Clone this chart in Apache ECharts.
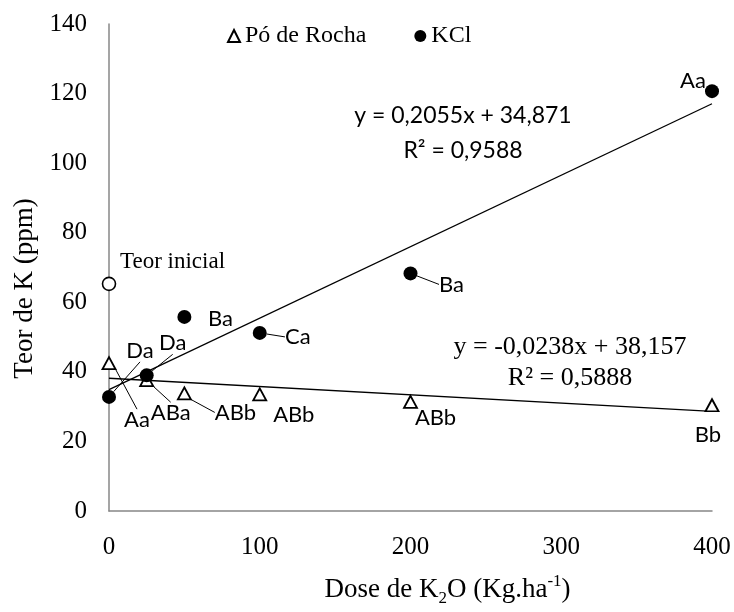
<!DOCTYPE html>
<html>
<head>
<meta charset="utf-8">
<script src="https://cdn.jsdelivr.net/npm/echarts@6/dist/echarts.min.js"></script>
<style>html,body{margin:0;padding:0;background:#fff;}#c{width:734px;height:612px;}</style>
</head>
<body>
<div id="c"></div>
<script>
// ---- data ----
const doses = [0, 25, 50, 100, 200, 400];
const poRocha = [42.5, 37.6, 33.8, 33.5, 31.4, 30.4];
const kcl = [32.8, 39.0, 55.8, 51.2, 68.3, 120.7];
const poLetters = ['Aa', 'ABa', 'ABb', 'ABb', 'ABb', 'Bb'];
const kclLetters = ['Da', 'Da', 'Ba', 'Ca', 'Ba', 'Aa'];
const teorInicial = [0, 65.3];
const kclFit = { slope: 0.2055, intercept: 34.871, r2: '0,9588', eq: 'y = 0,2055x + 34,871' };
const poFit = { slope: -0.0238, intercept: 38.157, r2: '0,5888', eq: 'y = -0,0238x + 38,157' };
const fitRange = [0, 400];

// ---- label layout (pixel offsets of letter labels from their points) ----
const poOffsets = [[28, 57], [24, 33], [51, 19], [34, 20], [25, 16], [-4, 30]];
const kclOffsets = [[31, -46], [26, -32], [36, 2], [38, 4], [41, 11], [-19, -10]];
const poLeader = [true, true, true, false, false, false];
const kclLeader = [true, true, false, true, true, false];

const serif = 'Liberation Serif';
const sans = 'Lato';

function fitLine(f) { return fitRange.map(x => [x, f.intercept + f.slope * x]); }

function scatterData(ys, letters, leaders) {
  return doses.map((d, i) => ({
    value: [d, ys[i]],
    label: { formatter: letters[i] },
    labelLine: { show: leaders[i], lineStyle: { color: '#000', width: 1 } }
  }));
}

const labelBase = {
  show: true, position: 'inside', fontFamily: sans, fontSize: 22, color: '#000'
};

const chart = echarts.init(document.getElementById('c'));
chart.setOption({
  animation: false,
  backgroundColor: '#fff',
  grid: { left: 109, right: 22, top: 24, bottom: 96 },
  legend: {
    data: [{ name: 'Pó de Rocha', icon: 'triangle' }, { name: 'KCl', icon: 'circle' }],
    left: 222, top: 19, itemWidth: 12, itemHeight: 12, itemGap: 48,
    textStyle: { fontFamily: serif, fontSize: 24, color: '#000' }
  },
  xAxis: {
    type: 'value', min: 0, max: 400, interval: 100,
    axisLine: { lineStyle: { color: '#878787', width: 1.5 } },
    axisTick: { show: false }, splitLine: { show: false },
    axisLabel: { fontFamily: serif, fontSize: 25, color: '#000', margin: 24 },
    name: '{n|Dose de K}{sub|2}{n|O (Kg.ha}{sup|-1}{n|)}',
    nameLocation: 'middle', nameGap: 62,
    nameTextStyle: {
      padding: [0, 0, 0, 74],
      rich: {
        n: { fontFamily: serif, fontSize: 27, color: '#000', lineHeight: 34, verticalAlign: 'middle' },
        sub: { fontFamily: serif, fontSize: 17, color: '#000', lineHeight: 14, verticalAlign: 'bottom' },
        sup: { fontFamily: serif, fontSize: 17, color: '#000', lineHeight: 20, verticalAlign: 'top' }
      }
    }
  },
  yAxis: {
    type: 'value', min: 0, max: 140, interval: 20,
    axisLine: { show: true, lineStyle: { color: '#878787', width: 1.5 } },
    axisTick: { show: false }, splitLine: { show: false },
    axisLabel: { fontFamily: serif, fontSize: 25, color: '#000', margin: 22 },
    name: 'Teor de K (ppm)', nameLocation: 'middle', nameGap: 68,
    nameTextStyle: { fontFamily: serif, fontSize: 27, color: '#000', padding: [0, 42, 0, 0] }
  },
  series: [
    {
      type: 'line', data: fitLine(kclFit), symbol: 'none', silent: true,
      lineStyle: { color: '#000', width: 1.3 }, z: 1
    },
    {
      type: 'line', data: fitLine(poFit), symbol: 'none', silent: true,
      lineStyle: { color: '#000', width: 1.3 }, z: 1
    },
    {
      name: 'Pó de Rocha', type: 'scatter', symbol: 'triangle', symbolSize: [13, 12],
      itemStyle: { color: '#fff', borderColor: '#000', borderWidth: 1.8, opacity: 1 },
      data: scatterData(poRocha, poLetters, poLeader),
      label: labelBase,
      labelLayout: p => ({ dx: poOffsets[p.dataIndex][0], dy: poOffsets[p.dataIndex][1] }),
      z: 3
    },
    {
      name: 'KCl', type: 'scatter', symbol: 'circle', symbolSize: 14,
      itemStyle: { color: '#000', opacity: 1 },
      data: scatterData(kcl, kclLetters, kclLeader),
      label: labelBase,
      labelLayout: p => ({ dx: kclOffsets[p.dataIndex][0], dy: kclOffsets[p.dataIndex][1] }),
      z: 3
    },
    {
      name: 'Teor inicial', type: 'scatter', symbol: 'circle', symbolSize: 13,
      itemStyle: { color: '#fff', borderColor: '#000', borderWidth: 1.6, opacity: 1 },
      data: [teorInicial],
      label: {
        show: true, position: 'inside', align: 'left', offset: [11, -22],
        formatter: 'Teor inicial', fontFamily: serif, fontSize: 23, color: '#000'
      },
      z: 3
    }
  ],
  graphic: [
    { type: 'text', x: 463, y: 116, style: { text: kclFit.eq, fontFamily: sans, fontSize: 23, fill: '#000', textAlign: 'center', textVerticalAlign: 'middle' } },
    { type: 'text', x: 463, y: 151, style: { text: 'R² = ' + kclFit.r2, fontFamily: sans, fontSize: 23, fill: '#000', textAlign: 'center', textVerticalAlign: 'middle' } },
    { type: 'text', x: 570, y: 347, style: { text: poFit.eq, fontFamily: serif, fontSize: 26, fill: '#000', textAlign: 'center', textVerticalAlign: 'middle' } },
    { type: 'text', x: 570, y: 378, style: { text: 'R² = ' + poFit.r2, fontFamily: serif, fontSize: 26, fill: '#000', textAlign: 'center', textVerticalAlign: 'middle' } }
  ]
});
</script>
</body>
</html>
